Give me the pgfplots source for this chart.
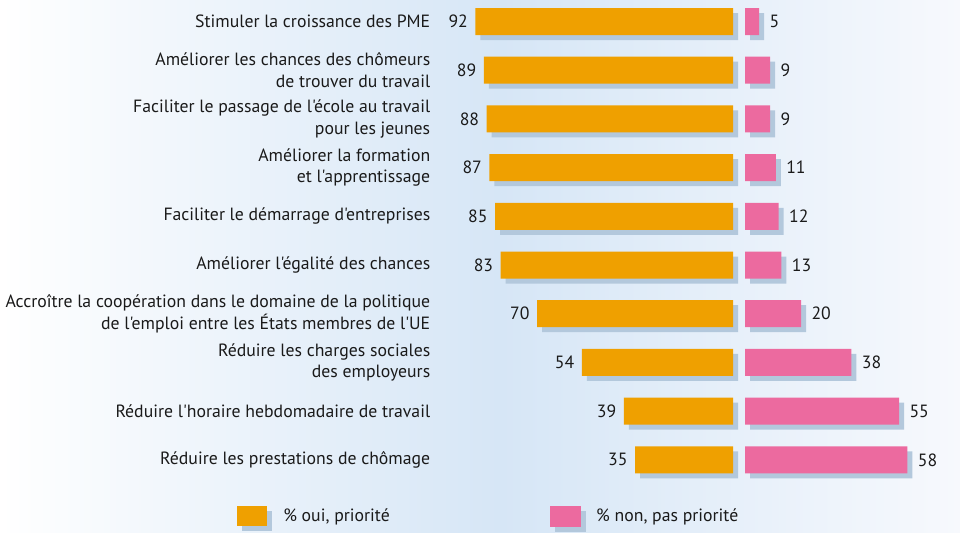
\documentclass[border=0pt]{standalone}
\usepackage{pgfplots}
\pgfplotsset{compat=1.18}
\usepackage{pgfplotstable}
\usepackage{fontspec}
\setmainfont{PT Sans}[Ligatures=TeXOff]

\definecolor{oui}{HTML}{EFA000}
\definecolor{non}{HTML}{EC6A9F}
\definecolor{ombre}{HTML}{B3C8DC}
\definecolor{fondbleu}{HTML}{D6E6F6}
\definecolor{fondclair}{HTML}{F7F9FD}
\definecolor{texte}{HTML}{1A1A1A}

% rang : position de la ligne (0 = en haut)
\pgfplotstableread{
rang oui non
0 92 5
1 89 9
2 88 9
3 87 11
4 85 12
5 83 13
6 70 20
7 54 38
8 39 55
9 35 58
}\donnees

\newcommand{\police}{\fontsize{17.8}{21.5}\selectfont}

\pgfplotsset{
  barres/.style={
    xbar, bar width=27bp, y dir=reverse, ymin=-0.5, ymax=9.5,
    height=487bp, scale only axis, clip=false,
    axis line style={draw=none}, tick style={draw=none},
    xtick=\empty,
    /pgf/number format/assume math mode=true,
  },
}

\begin{document}
\begin{tikzpicture}[font=\police]
\useasboundingbox (0,0) rectangle (960bp,533bp);
\shade[left color=white, right color=fondbleu] (0,0) rectangle (500bp,533bp);
\shade[left color=fondbleu, right color=fondclair] (500bp,0) rectangle (960bp,533bp);

% oui, priorité : barres vers la gauche
\begin{axis}[barres, at={(733bp,535.85bp)}, anchor=north east,
  width=280bp, xmin=-100, xmax=0,
  ytick={0,...,9},
  yticklabels={
    {Stimuler la croissance des PME},
    {Améliorer les chances des chômeurs\\de trouver du travail},
    {Faciliter le passage de l'école au travail\\pour les jeunes},
    {Améliorer la formation\\et l'apprentissage},
    {Faciliter le démarrage d'entreprises},
    {Améliorer l'égalité des chances},
    {Accroître la coopération dans le domaine de la politique\\de l'emploi entre les États membres de l'UE},
    {Réduire les charges sociales\\des employeurs},
    {Réduire l'horaire hebdomadaire de travail},
    {Réduire les prestations de chômage}},
  yticklabel style={align=right, font=\police, text=texte, xshift=-15bp},
  legend columns=2,
  legend style={at={(-0.771,-0.071)}, anchor=west, draw=none, fill=none,
    inner sep=0pt, font=\police, text=texte,
    /tikz/every odd column/.append style={column sep=9bp},
    /tikz/every even column/.append style={column sep=158bp}},
]
\addplot[draw=none, fill=ombre, xshift=5bp, yshift=-5bp, forget plot]
  table[x expr=-\thisrow{oui}, y=rang] \donnees;
\addplot[draw=none, fill=oui,
  nodes near coords, point meta=explicit,
  every node near coord/.append style={anchor=east, xshift=-4bp, font=\police, text=texte},
  legend image code/.code={
    \fill[ombre] (5bp,-15bp) rectangle (35bp,5bp);
    \fill[oui] (0bp,-10bp) rectangle (30bp,10bp);}]
  table[x expr=-\thisrow{oui}, y=rang, meta=oui] \donnees;
\addlegendentry{\% oui, priorité}
\addlegendimage{legend image code/.code={
    \fill[ombre] (5bp,-15bp) rectangle (35bp,5bp);
    \fill[non] (0bp,-10bp) rectangle (30bp,10bp);}}
\addlegendentry{\% non, pas priorité}
\end{axis}

% non, pas priorité : barres vers la droite
\begin{axis}[barres, at={(745bp,535.85bp)}, anchor=north west,
  width=196bp, xmin=0, xmax=70, ytick=\empty]
\addplot[draw=none, fill=ombre, xshift=5bp, yshift=-5bp, forget plot]
  table[x=non, y=rang] \donnees;
\addplot[draw=none, fill=non,
  nodes near coords, point meta=explicit,
  every node near coord/.append style={anchor=west, xshift=7bp, font=\police, text=texte}]
  table[x=non, y=rang, meta=non] \donnees;
\end{axis}
\end{tikzpicture}
\end{document}
